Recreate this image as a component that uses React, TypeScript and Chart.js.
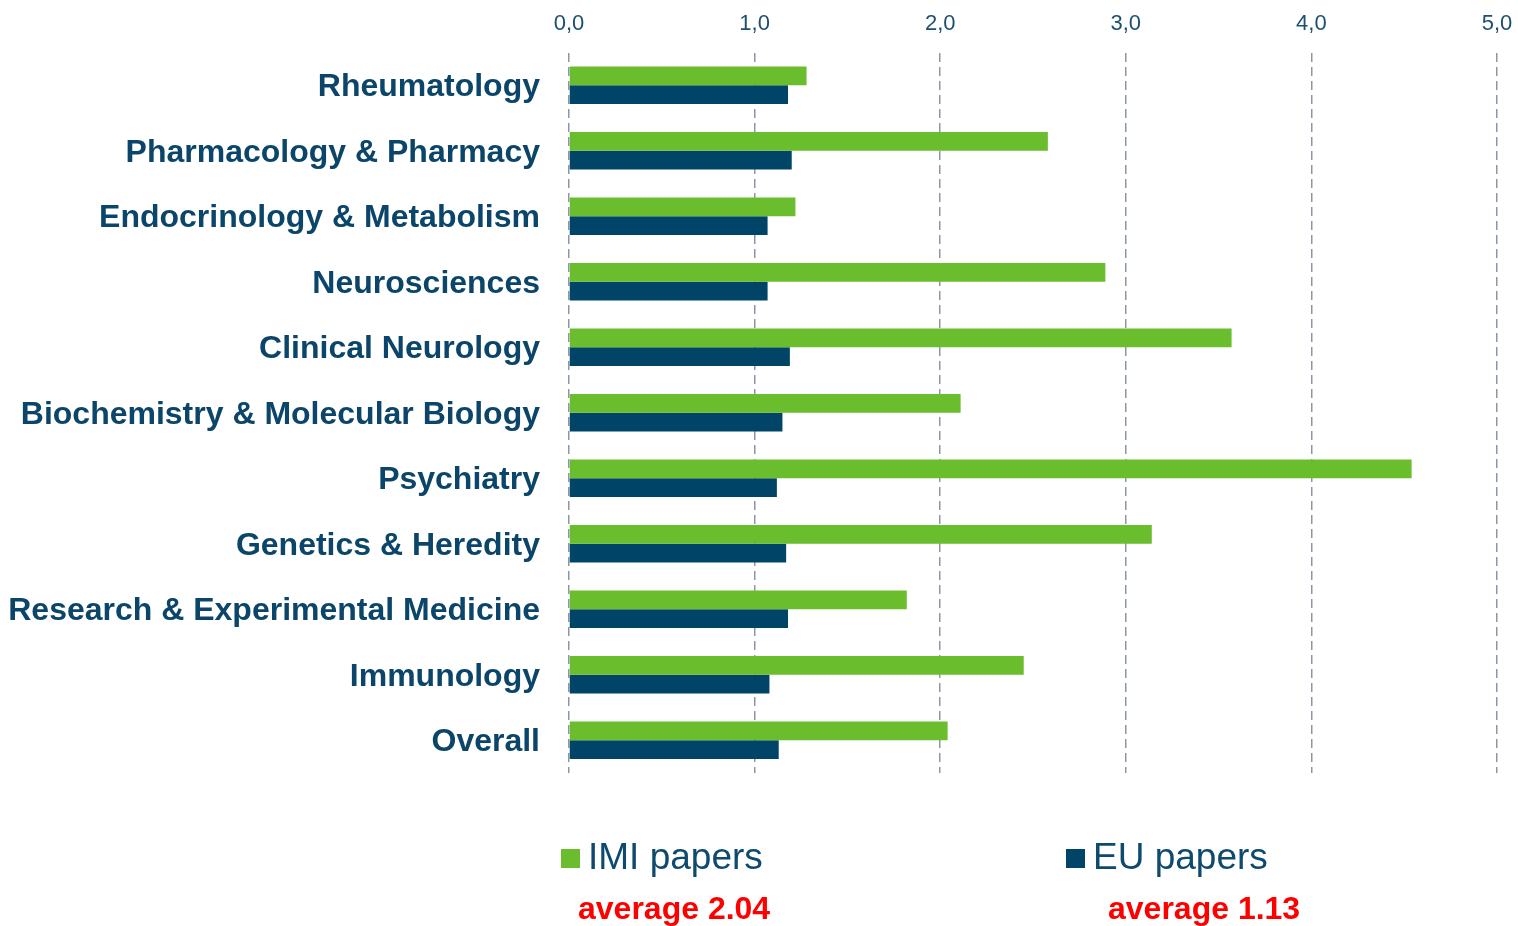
import React, { useEffect, useRef } from "react";
import { Chart, registerables } from "chart.js";

Chart.register(...registerables);

const categories = [
  "Rheumatology",
  "Pharmacology & Pharmacy",
  "Endocrinology & Metabolism",
  "Neurosciences",
  "Clinical Neurology",
  "Biochemistry & Molecular Biology",
  "Psychiatry",
  "Genetics & Heredity",
  "Research & Experimental Medicine",
  "Immunology",
  "Overall",
];
const imiValues = [1.28, 2.58, 1.22, 2.89, 3.57, 2.11, 4.54, 3.14, 1.82, 2.45, 2.04];
const euValues = [1.18, 1.2, 1.07, 1.07, 1.19, 1.15, 1.12, 1.17, 1.18, 1.08, 1.13];
const seriesNames = ["IMI papers", "EU papers"];
const averageLabels = ["average 2.04", "average 1.13"];
const xMin = 0;
const xMax = 5;
const xStep = 1;

const GREEN = "#6abd2d";
const BLUE = "#004468";
const TEXT = "#0b4569";
const TICK = "#1c4f70";
const FONT = "'Liberation Sans', Arial, sans-serif";

const legendPlugin = {
  id: "customLegend",
  afterDraw(chart: any) {
    const ctx = chart.ctx;
    ctx.save();
    const colors = [GREEN, BLUE];
    const sqX = [561, 1066];
    const legendY = 858;
    const avgX = [578, 1108];
    const avgY = 909;
    ctx.textBaseline = "middle";
    ctx.textAlign = "left";
    for (let i = 0; i < 2; i++) {
      ctx.fillStyle = colors[i];
      ctx.fillRect(sqX[i], legendY - 9, 19, 19);
      ctx.fillStyle = "#0d4a6e";
      ctx.font = `37px ${FONT}`;
      ctx.fillText(seriesNames[i], sqX[i] + 27, legendY + 1);
      ctx.fillStyle = "#ff0000";
      ctx.font = `bold 32px ${FONT}`;
      ctx.fillText(averageLabels[i], avgX[i], avgY + 1);
    }
    ctx.restore();
  },
};

export default function App() {
  const ref = useRef<HTMLCanvasElement | null>(null);
  useEffect(() => {
    if (!ref.current) return;
    const chart = new Chart(ref.current, {
      type: "bar",
      data: {
        labels: categories,
        datasets: [
          {
            label: seriesNames[0],
            data: imiValues,
            backgroundColor: GREEN,
            categoryPercentage: 0.575,
            barPercentage: 1,
          },
          {
            label: seriesNames[1],
            data: euValues,
            backgroundColor: BLUE,
            categoryPercentage: 0.575,
            barPercentage: 1,
          },
        ],
      },
      options: {
        indexAxis: "y",
        responsive: false,
        animation: false,
        devicePixelRatio: 1,
        layout: { padding: { left: 0, right: 21, top: 0, bottom: 153 } },
        plugins: {
          legend: { display: false },
          tooltip: { enabled: false },
        },
        scales: {
          x: {
            position: "top",
            min: xMin,
            max: xMax,
            ticks: {
              stepSize: xStep,
              color: TICK,
              font: { family: FONT, size: 22 },
              padding: 15,
              callback: (v: any) => Number(v).toFixed(1).replace(".", ","),
            },
            grid: {
              color: "#8c97a5",
              lineWidth: 1.5,
              drawTicks: false,
            },
            border: { display: false, dash: [9, 5] },
            afterFit: (scale: any) => {
              scale.height = 52.5;
              scale.paddingLeft = 0;
              scale.paddingRight = 0;
            },
          },
          y: {
            grid: { display: false, drawTicks: false },
            border: { display: false },
            ticks: {
              color: TEXT,
              font: { family: FONT, size: 32, weight: "bold" },
              padding: 29,
              labelOffset: 2,
            },
            afterFit: (scale: any) => {
              scale.width = 569;
            },
          },
        },
      },
      plugins: [legendPlugin],
    });
    return () => chart.destroy();
  }, []);
  return (
    <div style={{ position: "fixed", left: 0, top: 0, width: 1518, height: 926, background: "#fff" }}>
      <canvas ref={ref} width={1518} height={926} style={{ display: "block", width: 1518, height: 926 }} />
    </div>
  );
}
